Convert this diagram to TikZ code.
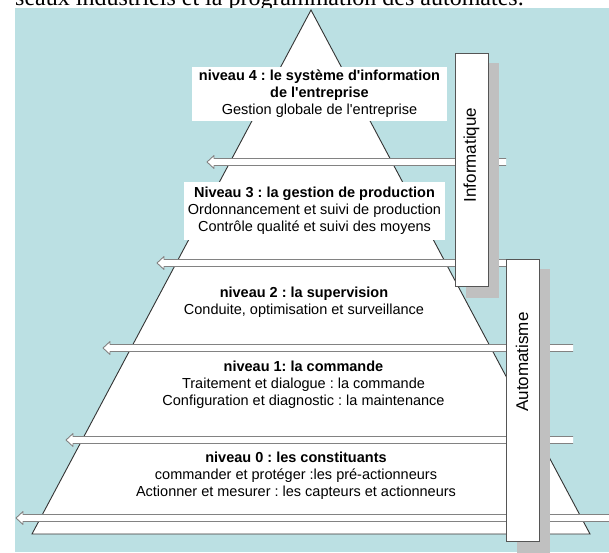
\documentclass[tikz,border=0pt]{standalone}
\usepackage{fontspec}
\setmainfont{Liberation Sans}
\newfontfamily\titrefont{Liberation Serif}
\definecolor{fond}{RGB}{187,224,227}
\definecolor{ombre}{RGB}{192,192,192}
\definecolor{bord}{RGB}{85,85,85}
\definecolor{flgris}{RGB}{130,130,130}
\frenchspacing

\begin{document}
\begin{tikzpicture}[x=1pt,y=-1pt,
	niveau/.style={align=center,font=\fontsize{14.5}{17}\selectfont,inner sep=0pt},
	colonne/.style={fill=white,draw=bord,line width=0.9pt},
	etiquette/.style={rotate=90,font=\fontsize{17}{20}\selectfont,inner sep=0pt},
	fleche/.style={fill=white,draw=flgris,line width=0.9pt,line join=round}]
	\useasboundingbox (0,0) rectangle (609,552);
	\fill[white] (0,0) rectangle (609,552);
	\node[anchor=base west,inner sep=0pt,font=\titrefont\fontsize{24}{24}\selectfont] (titre) at (15,5) {seaux industriels et la programmation des automates.};
	\fill[fond] (15,8) rectangle (609,552);
	% pyramide
	\coordinate (sommet) at (311,10);
	\coordinate (basegauche) at (32,534);
	\coordinate (basedroite) at (590,534);
	\draw[fill=white,draw=black!80,line width=0.9pt] (sommet) -- (basegauche) -- (basedroite) -- cycle;
	% fleches entre les niveaux
	\foreach \y/\xg/\xd in {162/207/506,263/157/510,348/103/573,440/66/573,518/16/612}
		\draw[fleche] (\xd,\y-3.5) -- (\xg+7,\y-3.5) -- (\xg+7,\y-6.5) -- (\xg,\y) -- (\xg+7,\y+6.5) -- (\xg+7,\y+3.5) -- (\xd,\y+3.5);
	% niveaux
	\node[niveau,fill=white,minimum width=255pt,minimum height=54pt] (niv4) at (319.5,94)
		{\textbf{niveau 4 : le système d\textquotesingle information}\\\textbf{de l\textquotesingle entreprise}\\Gestion globale de l\textquotesingle entreprise};
	\node[niveau,fill=white,minimum width=261pt,minimum height=58pt] (niv3) at (314.5,211)
		{\textbf{Niveau 3 : la gestion de production}\\Ordonnancement et suivi de production\\Contrôle qualité et suivi des moyens};
	\node[niveau] (niv2) at (304,302)
		{\textbf{niveau 2 : la supervision}\\Conduite, optimisation et surveillance};
	\node[niveau] (niv1) at (303.5,385)
		{\textbf{niveau 1: la commande}\\Traitement et dialogue : la commande\\Configuration et diagnostic : la maintenance};
	\node[niveau] (niv0) at (296,476)
		{\textbf{niveau 0 : les constituants}\\commander et protéger :les pré-actionneurs\\Actionner et mesurer : les capteurs et actionneurs};
	% colonnes
	\fill[ombre] (466,63) rectangle (499,298);
	\draw[colonne] (455,53) rectangle (488,286);
	\node[etiquette] (informatique) at (471.5,155) {Informatique};
	\fill[ombre] (517,269) rectangle (550,560);
	\draw[colonne] (506,259) rectangle (539,541);
	\node[etiquette] (automatisme) at (522,362) {Automatisme};
\end{tikzpicture}
\end{document}
